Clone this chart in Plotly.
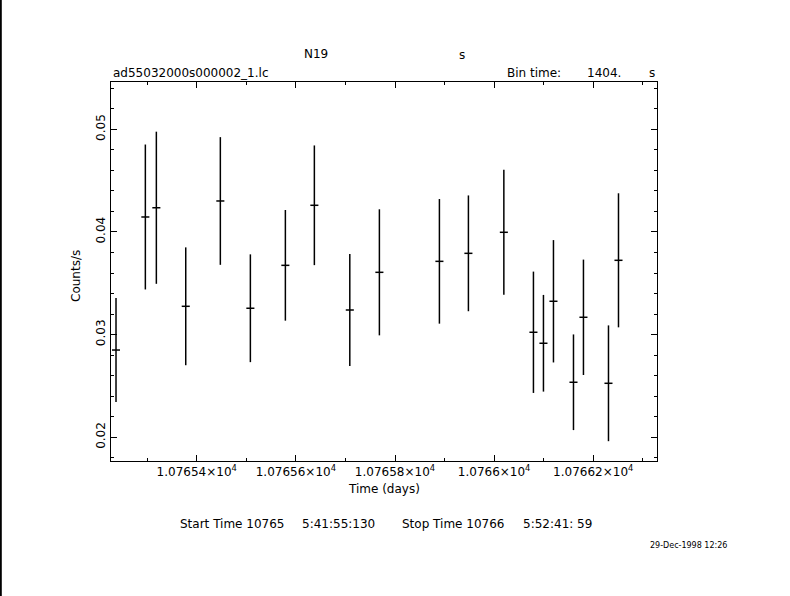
import plotly.graph_objects as go

# ---- data ----
time_days = [10765.2371, 10765.2963, 10765.3185, 10765.3778, 10765.4476,
             10765.5082, 10765.5788, 10765.6373, 10765.7088, 10765.7685,
             10765.8896, 10765.9481, 10766.0196, 10766.0793, 10766.0995,
             10766.1197, 10766.1601, 10766.1802, 10766.2307, 10766.2509]
rate = [0.02850, 0.04146, 0.04236, 0.03276, 0.04302,
        0.03257, 0.03675, 0.04260, 0.03240, 0.03607,
        0.03714, 0.03792, 0.03997, 0.03023, 0.02916,
        0.03325, 0.02536, 0.03169, 0.02526, 0.03724]
rate_err = [0.00507, 0.00706, 0.00741, 0.00574, 0.00622,
            0.00525, 0.00539, 0.00583, 0.00545, 0.00614,
            0.00607, 0.00564, 0.00609, 0.00591, 0.00471,
            0.00596, 0.00466, 0.00562, 0.00564, 0.00653]
bin_time_s = 1404.0
half_bin_days = bin_time_s / 2.0 / 86400.0

x_tickvals = [10765.4, 10765.6, 10765.8, 10766.0, 10766.2]
x_ticktext = ["1.07654×10<sup>4</sup>", "1.07656×10<sup>4</sup>",
              "1.07658×10<sup>4</sup>", "1.0766×10<sup>4</sup>",
              "1.07662×10<sup>4</sup>"]
y_tickvals = [0.02, 0.03, 0.04, 0.05]
y_ticktext = ["0.02", "0.03", "0.04", "0.05"]

# ---- figure geometry (pixels) ----
W, H = 790, 596
L, R, T, B = 111, 657, 82, 461
PW, PH = R - L, B - T


def px(xp):
    return (xp - L) / PW


def py(yp):
    return (B - yp) / PH


FONT = "DejaVu Sans"

fig = go.Figure()
fig.add_trace(go.Scatter(
    x=time_days, y=rate, mode="markers",
    marker=dict(size=1, color="rgba(0,0,0,0)"),
    error_y=dict(type="data", array=rate_err, visible=True,
                 color="black", thickness=1.5, width=0),
    error_x=dict(type="constant", value=half_bin_days, visible=True,
                 color="black", thickness=1.5, width=0),
    showlegend=False, hoverinfo="x+y",
))

axis_common = dict(
    showline=True, linecolor="black", linewidth=1, mirror="allticks",
    ticks="inside", ticklen=6, tickcolor="black", tickwidth=1,
    showgrid=False, zeroline=False,
    tickfont=dict(family=FONT, size=12, color="black"),
)

fig.update_xaxes(
    range=[10765.2270, 10766.3286], tickmode="array",
    tickvals=x_tickvals, ticktext=x_ticktext,
    minor=dict(dtick=0.1, tick0=10765.4, ticks="inside", ticklen=3,
               tickcolor="black", tickwidth=1, showgrid=False),
    **axis_common,
)
fig.update_yaxes(
    range=[0.01769, 0.05461], tickmode="array",
    tickvals=y_tickvals, ticktext=y_ticktext, tickangle=-90,
    minor=dict(dtick=0.002, tick0=0.02, ticks="inside", ticklen=3,
               tickcolor="black", tickwidth=1, showgrid=False),
    **axis_common,
)

annots = [
    dict(text="N19", x=px(316), y=py(54), xanchor="center", yanchor="middle", size=12),
    dict(text="s", x=px(462), y=py(55), xanchor="center", yanchor="middle", size=12),
    dict(text="ad55032000s000002_1.lc", x=px(111), y=py(73), xanchor="left", yanchor="middle", size=12),
    dict(text="Bin time:", x=px(505), y=py(73), xanchor="left", yanchor="middle", size=12),
    dict(text="1404.", x=px(585), y=py(73), xanchor="left", yanchor="middle", size=12),
    dict(text="s", x=px(652), y=py(73), xanchor="center", yanchor="middle", size=12),
    dict(text="Time (days)", x=px(384), y=py(489), xanchor="center", yanchor="middle", size=12),
    dict(text="Start Time 10765", x=px(178), y=py(524), xanchor="left", yanchor="middle", size=12),
    dict(text="5:41:55:130", x=px(300), y=py(524), xanchor="left", yanchor="middle", size=12),
    dict(text="Stop Time 10766", x=px(400), y=py(524), xanchor="left", yanchor="middle", size=12),
    dict(text="5:52:41: 59", x=px(521), y=py(524), xanchor="left", yanchor="middle", size=12),
    dict(text="29-Dec-1998 12:26", x=px(688), y=py(545), xanchor="center", yanchor="middle", size=8),
]
for a in annots:
    fig.add_annotation(text=a["text"], x=a["x"], y=a["y"], xref="paper", yref="paper",
                       xanchor=a["xanchor"], yanchor=a["yanchor"], showarrow=False,
                       font=dict(family=FONT, size=a["size"], color="black"))
fig.add_annotation(text="Counts/s", x=px(76), y=py(276), xref="paper", yref="paper",
                   xanchor="center", yanchor="middle", textangle=-90, showarrow=False,
                   font=dict(family=FONT, size=12, color="black"))

# black left border of the page
fig.add_shape(type="line", xref="paper", yref="paper",
              x0=px(0.8), x1=px(0.8), y0=py(0), y1=py(596),
              line=dict(color="black", width=2))

fig.update_layout(
    width=W, height=H,
    margin=dict(l=L, r=W - R, t=T, b=H - B, pad=0),
    paper_bgcolor="white", plot_bgcolor="white",
    font=dict(family=FONT, size=12, color="black"),
)

fig.write_html(
    "out.html",
    config={"displayModeBar": False},
    post_script="document.body.style.margin='0';document.body.style.padding='0';"
                "document.body.style.overflow='hidden';",
)
